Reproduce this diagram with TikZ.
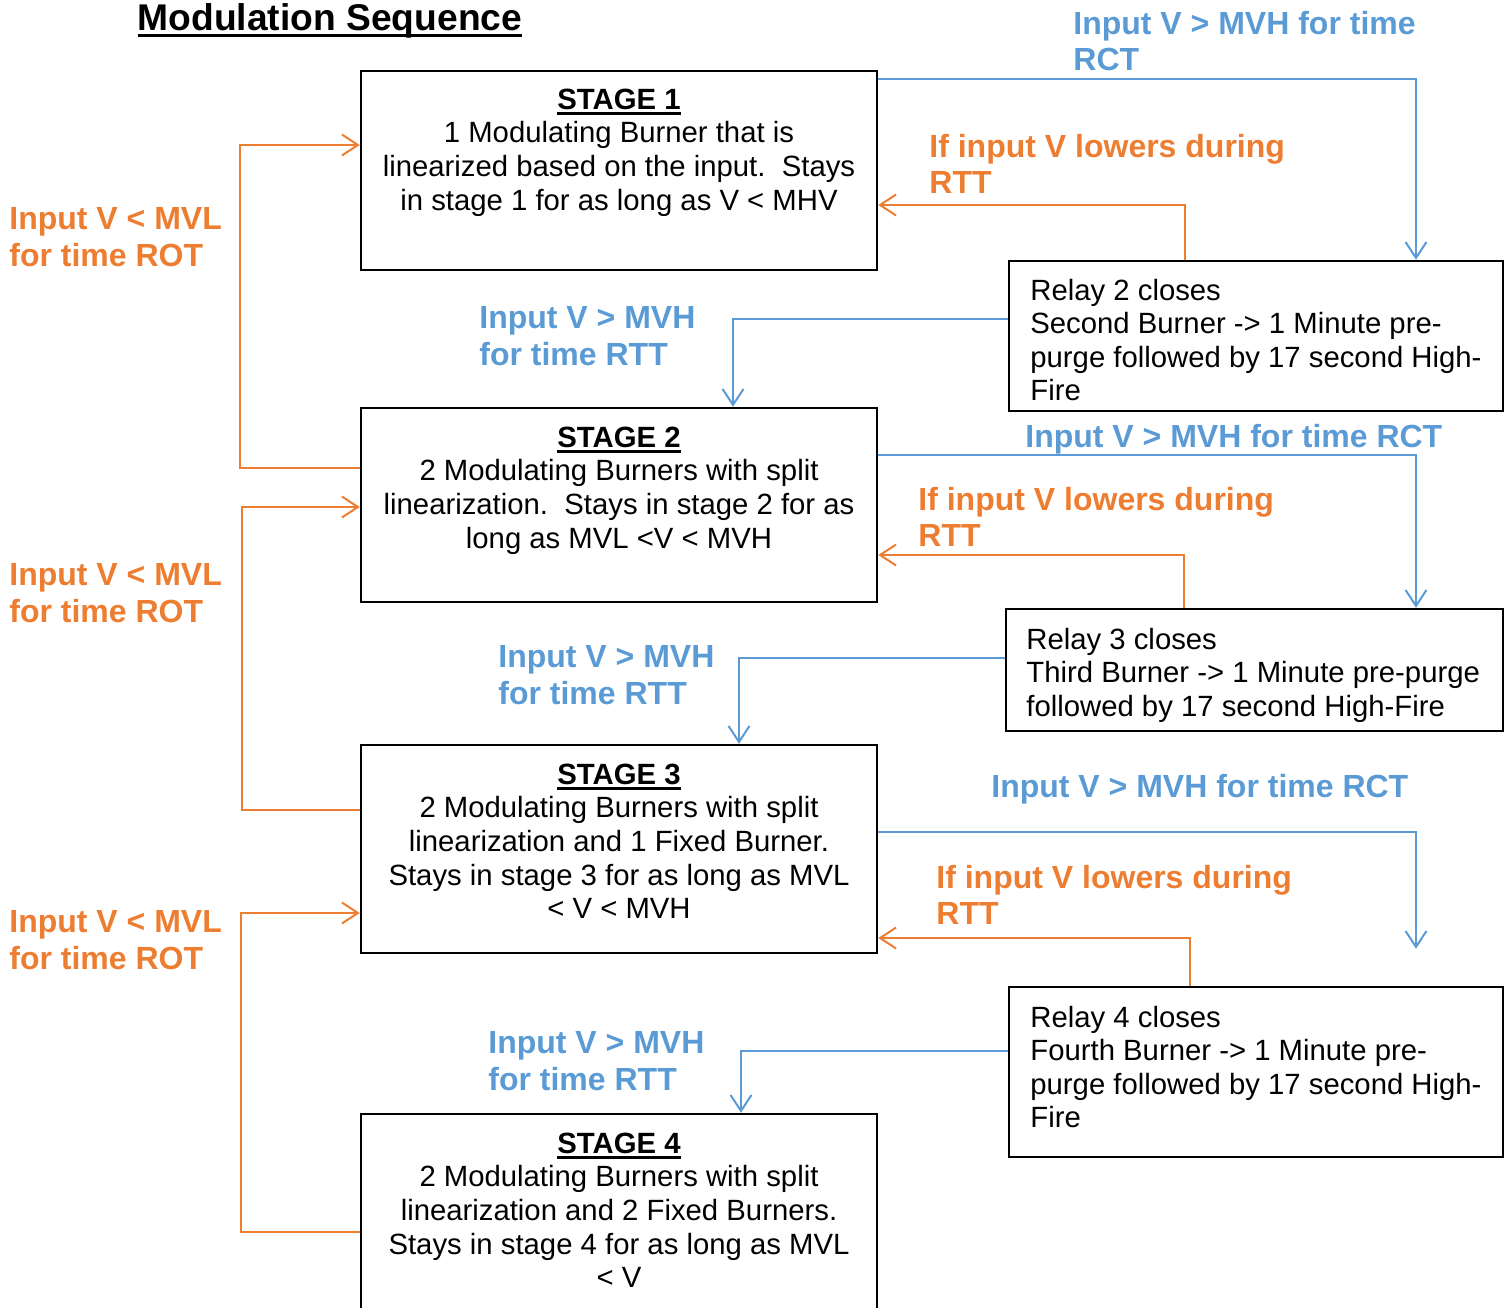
\documentclass[tikz,border=0pt]{standalone}
\usepackage{fontspec}
\setmainfont{Liberation Sans}
\usetikzlibrary{arrows.meta,calc}
\definecolor{cblue}{HTML}{5B9BD5}
\definecolor{corange}{HTML}{ED7D31}
\newcommand\myul[1]{\setbox0\hbox{#1}\rlap{\rule[-0.18em]{\wd0}{0.09em}}\box0}
\tikzset{
  box/.style={draw=black, line width=1.25pt, minimum width=258pt, inner sep=0pt},
  body/.style={inner sep=0pt, font=\fontsize{14.65}{16.8}\selectfont},
  lbl/.style={inner sep=0pt, align=left, anchor=north west, font=\fontsize{16}{18.4}\selectfont\bfseries},
  bl/.style={lbl, text=cblue},
  ol/.style={lbl, text=corange},
  conn/.style={line width=1pt, -{Straight Barb[length=8pt,width=10.5pt]}},
  bconn/.style={conn, draw=cblue},
  oconn/.style={conn, draw=corange}
}
\begin{document}
\begin{tikzpicture}[x=0.5pt,y=-0.5pt]
\useasboundingbox (0,0) rectangle (1512,1308);
\clip (0,0) rectangle (1512,1308);

% title
\node[anchor=north, inner sep=0pt, font=\fontsize{18.6}{22}\selectfont\bfseries] (title) at (330,3) {\myul{Modulation Sequence}};

% stage boxes
\node[box, minimum height=99.5pt] (s1) at (619,170.5) {};
\node[box, minimum height=97pt] (s2) at (619,505) {};
\node[box, minimum height=104pt] (s3) at (619,849) {};
\node[box, minimum height=108pt] (s4) at (619,1222) {};

\node[body, align=center, anchor=north] (s1t) at (619,88.5) {\myul{\textbf{STAGE 1}}\\1 Modulating Burner that is\\linearized based on the input.\ \ Stays\\in stage 1 for as long as V < MHV};
\node[body, align=center, anchor=north] (s2t) at (619,426.5) {\myul{\textbf{STAGE 2}}\\2 Modulating Burners with split\\linearization.\ \ Stays in stage 2 for as\\long as MVL <V < MVH};
\node[body, align=center, anchor=north] (s3t) at (619,763.5) {\myul{\textbf{STAGE 3}}\\2 Modulating Burners with split\\linearization and 1 Fixed Burner.\\Stays in stage 3 for as long as MVL\\< V < MVH};
\node[body, align=center, anchor=north] (s4t) at (619,1132.5) {\myul{\textbf{STAGE 4}}\\2 Modulating Burners with split\\linearization and 2 Fixed Burners.\\Stays in stage 4 for as long as MVL\\< V};

% relay boxes
\node[box, minimum width=247pt, minimum height=75pt] (r2) at (1256,336) {};
\node[box, minimum width=248.5pt, minimum height=61pt] (r3) at (1254.5,670) {};
\node[box, minimum width=247pt, minimum height=85pt] (r4) at (1256,1072) {};

\node[body, align=left, anchor=north west] (r2t) at (1030,278.5) {Relay 2 closes\\Second Burner -> 1 Minute pre-\\purge followed by 17 second High-\\Fire};
\node[body, align=left, anchor=north west] (r3t) at (1026,627.5) {Relay 3 closes\\Third Burner -> 1 Minute pre-purge\\followed by 17 second High-Fire};
\node[body, align=left, anchor=north west] (r4t) at (1030,1005.5) {Relay 4 closes\\Fourth Burner -> 1 Minute pre-\\purge followed by 17 second High-\\Fire};

% labels
\node[bl] (l1) at (1073,10.5) {Input V > MVH for time\\RCT};
\node[ol] (l2) at (929,133.5) {If input V lowers during\\RTT};
\node[bl] (l3) at (479,306.5) {Input V > MVH\\for time RTT};
\node[ol] (l4) at (9,207.5) {Input V < MVL\\for time ROT};
\node[bl] (l5) at (1025,423.5) {Input V > MVH for time RCT};
\node[ol] (l6) at (918,486.5) {If input V lowers during\\RTT};
\node[bl] (l7) at (498,645.5) {Input V > MVH\\for time RTT};
\node[ol] (l8) at (9,563.5) {Input V < MVL\\for time ROT};
\node[bl] (l9) at (991,773.5) {Input V > MVH for time RCT};
\node[ol] (l10) at (936,864.5) {If input V lowers during\\RTT};
\node[bl] (l11) at (488,1031.5) {Input V > MVH\\for time RTT};
\node[ol] (l12) at (9,910.5) {Input V < MVL\\for time ROT};

% connectors: stage 1 <-> relay 2
\draw[bconn] ([yshift=-4.5pt]s1.north east) -| ([xshift=80pt]r2.north);
\draw[oconn] ([xshift=-35.5pt]r2.north) |- ([yshift=-17.25pt]s1.east);
\draw[bconn] ([yshift=8.5pt]r2.west) -| ([xshift=57pt]s2.north);
\draw[oconn] ([yshift=18.5pt]s2.west) -- ++(-120,0) |- ([yshift=12.75pt]s1.west);

% stage 2 <-> relay 3
\draw[bconn] ([yshift=25pt]s2.east) -| ([xshift=80.75pt]r3.north);
\draw[oconn] ([xshift=-35.25pt]r3.north) |- ([yshift=-25pt]s2.east);
\draw[bconn] ([yshift=6pt]r3.west) -| ([xshift=60pt]s3.north);
\draw[oconn] ([yshift=19.5pt]s3.west) -- ++(-118,0) |- ([yshift=-1pt]s2.west);

% stage 3 <-> relay 4
\coordinate (b3end) at ([xshift=80pt,yshift=18.5pt]r4.north);
\draw[bconn] ([yshift=8.5pt]s3.east) -| (b3end);
\draw[oconn] ([xshift=-33pt]r4.north) |- ([yshift=-44.5pt]s3.east);
\draw[bconn] ([yshift=10.5pt]r4.west) -| ([xshift=61pt]s4.north);
\draw[oconn] ([yshift=-5pt]s4.west) -- ++(-119,0) |- ([yshift=-32pt]s3.west);
\end{tikzpicture}
\end{document}
